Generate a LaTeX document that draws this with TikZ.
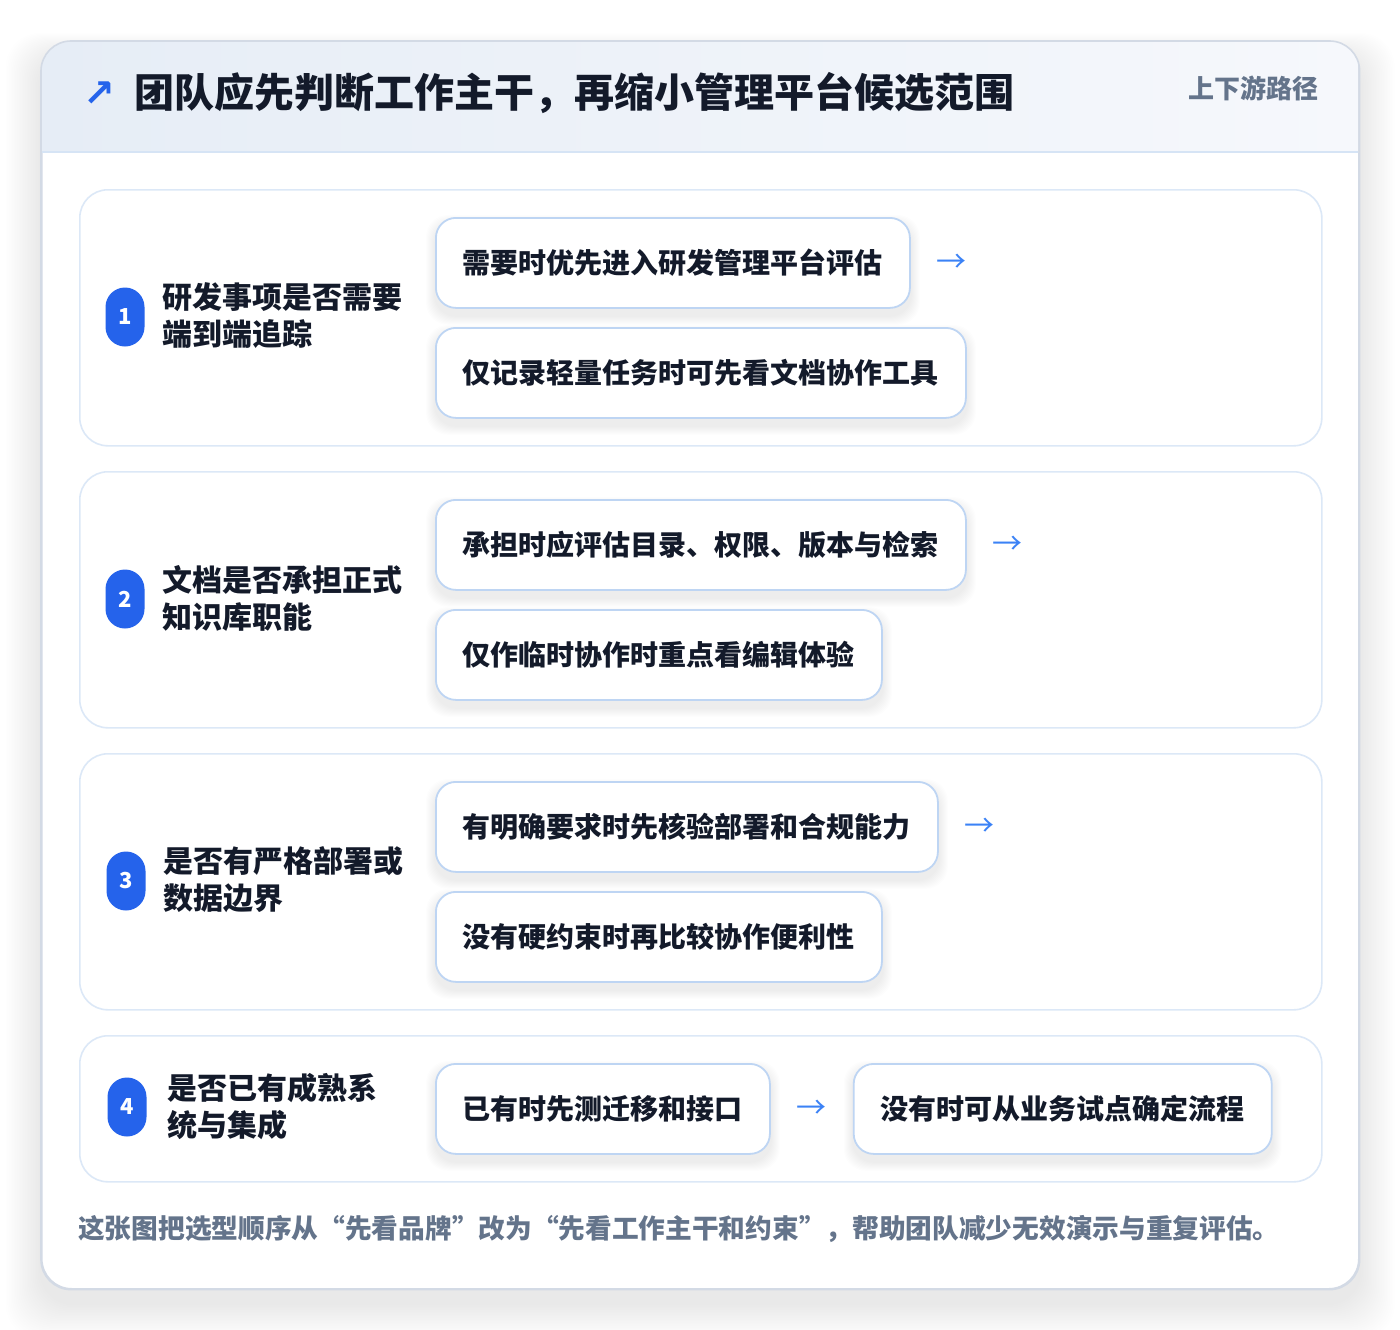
\documentclass[tikz,border=0pt]{standalone}
\usepackage{fontspec}
\setmainfont{Noto Sans CJK SC}
\newfontfamily\symfont{DejaVu Sans}
\definecolor{ink}{HTML}{131A2A}
\definecolor{muted}{HTML}{64748B}
\definecolor{accent}{HTML}{2563EB}
\definecolor{arrowc}{HTML}{3B82F6}
\definecolor{cardline}{HTML}{D3DAE5}
\definecolor{rowline}{HTML}{DCE8F7}
\definecolor{optline}{HTML}{BED5F3}
\definecolor{headL}{HTML}{E6EDF6}
\definecolor{headR}{HTML}{F6F8FC}
\definecolor{headline}{HTML}{D6E4F5}
\pgfdeclarelayer{cardshadow}
\pgfdeclarelayer{cardlayer}
\pgfdeclarelayer{rowlayer}
\pgfdeclarelayer{optshadow}
\pgfsetlayers{cardshadow,cardlayer,rowlayer,optshadow,main}
\tikzset{
  rowbox/.style={draw=rowline, line width=1.6pt, fill=white, rounded corners=28pt,
    minimum width=1242pt, anchor=north west, inner sep=0pt},
  optbox/.style={draw=optline, line width=1.8pt, fill=white, rounded corners=20pt,
    minimum height=90pt, inner xsep=27pt, inner ysep=0pt, anchor=north west,
    text=ink, font=\fontsize{28}{34}\selectfont\bfseries},
  badge/.style={fill=accent, rounded corners=19.5pt, minimum width=39pt, minimum height=59pt,
    inner sep=0pt, text=white, font=\fontsize{22}{22}\selectfont\bfseries},
  question/.style={anchor=west, align=left, inner sep=0pt, text=ink,
    font=\fontsize{30}{37}\selectfont\bfseries},
  flowarrow/.style={inner sep=0pt, text=arrowc, font=\fontsize{30}{30}\selectfont},
}
\newcommand{\boxshadow}[1]{%
  \begin{pgfonlayer}{optshadow}
  \foreach \i in {1,...,9}{
    \fill[black, opacity=0.007, rounded corners=22pt]
      ([shift={(-\i,-\i+7)}]#1.north west) rectangle ([shift={(\i,\i+7)}]#1.south east);
  }
  \end{pgfonlayer}}
\begin{document}
\begin{tikzpicture}[x=1pt,y=-1pt]
\useasboundingbox (0,0) rectangle (1400,1330);
% card
\begin{pgfonlayer}{cardlayer}
\node[draw=cardline, line width=1.6pt, fill=white, rounded corners=30pt,
  minimum width=1317pt, minimum height=1247pt, anchor=north west, inner sep=0pt]
  (card) at (41,41) {};
\begin{scope}
  \clip[rounded corners=30pt] (card.north west) rectangle (card.south east);
  \shade[left color=headL, right color=headR] (41,41) rectangle (1358,152);
  \draw[headline, line width=1.6pt] (41,152) -- (1358,152);
\end{scope}
\draw[cardline, line width=1.6pt, rounded corners=30pt] (card.north west) rectangle (card.south east);
\end{pgfonlayer}
\begin{pgfonlayer}{cardshadow}
\fill[white] (0,0) rectangle (1400,1330);
\foreach \i in {1,...,22}{
  \fill[black, opacity=0.0032, rounded corners=34pt]
    ([shift={(-1.6*\i,-1.0*\i+14)}]card.north west) rectangle ([shift={(1.6*\i,1.6*\i+14)}]card.south east);
}
\end{pgfonlayer}
% header
\node[inner sep=0pt, text=accent, font=\symfont\fontsize{38}{38}\selectfont\bfseries] (hicon) at (99,94) {↗};
\node[anchor=west, inner sep=0pt, text=ink, font=\fontsize{40}{40}\selectfont\bfseries] (title) at (134,93)
  {团队应先判断工作主干，再缩小管理平台候选范围};
\node[anchor=east, inner sep=0pt, text=muted, font=\fontsize{26}{26}\selectfont\bfseries] (tag) at (1319,88)
  {上下游路径};
% rows
\begin{pgfonlayer}{rowlayer}
\node[rowbox, minimum height=256pt] (row1) at (79,189) {};
\node[rowbox, minimum height=256pt] (row2) at (79,471) {};
\node[rowbox, minimum height=256pt] (row3) at (79,753) {};
\node[rowbox, minimum height=146pt] (row4) at (79,1035) {};
\end{pgfonlayer}
% row 1
\node[badge] (b1) at (125,317) {1};
\node[question] (q1) at (162,316) {研发事项是否需要\\端到端追踪};
\node[optbox] (o1a) at (435,217) {需要时优先进入研发管理平台评估};
\node[optbox] (o1b) at (435,327) {仅记录轻量任务时可先看文档协作工具};
\node[flowarrow] (a1) at ([xshift=41pt]o1a.east) {→};
% row 2
\node[badge] (b2) at (125,599) {2};
\node[question] (q2) at (162,598) {文档是否承担正式\\知识库职能};
\node[optbox] (o2a) at (435,499) {承担时应评估目录、权限、版本与检索};
\node[optbox] (o2b) at (435,609) {仅作临时协作时重点看编辑体验};
\node[flowarrow] (a2) at ([xshift=41pt]o2a.east) {→};
% row 3
\node[badge] (b3) at (126,881) {3};
\node[question] (q3) at (163,880) {是否有严格部署或\\数据边界};
\node[optbox] (o3a) at (435,781) {有明确要求时先核验部署和合规能力};
\node[optbox] (o3b) at (435,891) {没有硬约束时再比较协作便利性};
\node[flowarrow] (a3) at ([xshift=41pt]o3a.east) {→};
% row 4
\node[badge] (b4) at (127,1107) {4};
\node[question] (q4) at (167,1107) {是否已有成熟系\\统与集成};
\node[optbox] (o4a) at (435,1063) {已有时先测迁移和接口};
\node[flowarrow] (a4) at ([xshift=41pt]o4a.east) {→};
\node[optbox, anchor=west] (o4b) at ([xshift=82pt]o4a.east) {没有时可从业务试点确定流程};
\boxshadow{o1a}\boxshadow{o1b}\boxshadow{o2a}\boxshadow{o2b}
\boxshadow{o3a}\boxshadow{o3b}\boxshadow{o4a}\boxshadow{o4b}
% footer
\node[anchor=west, inner sep=0pt, text=muted, font=\fontsize{26.7}{27}\selectfont\bfseries] (note) at (78,1229)
  {这张图把选型顺序从“先看品牌”改为“先看工作主干和约束”，帮助团队减少无效演示与重复评估。};
\end{tikzpicture}
\end{document}
